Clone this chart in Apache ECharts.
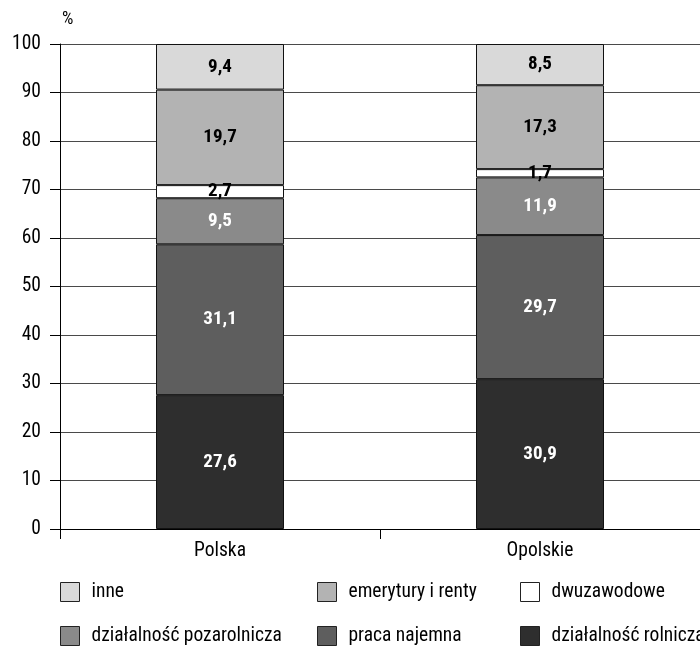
<!DOCTYPE html>
<html>
<head>
<meta charset="utf-8">
<script src="https://cdn.jsdelivr.net/npm/echarts@6/dist/echarts.min.js"></script>
<style>html,body{margin:0;padding:0;background:#fff}#c{width:700px;height:646px}</style>
</head>
<body>
<div id="c"></div>
<script>
var categories = ['Polska', 'Opolskie'];
var yTicks = [0, 10, 20, 30, 40, 50, 60, 70, 80, 90, 100];
var rolnicza = [27.6, 30.9];
var najemna = [31.1, 29.7];
var pozarolnicza = [9.5, 11.9];
var dwuzawodowe = [2.7, 1.7];
var emerytury = [19.7, 17.3];
var inne = [9.4, 8.5];

var FONT = '"Roboto Condensed", "Liberation Sans Narrow", "Arial Narrow", sans-serif';

var seriesDefs = [
  {name: 'działalność rolnicza', data: rolnicza, color: '#2e2e2e', text: '#ffffff'},
  {name: 'praca najemna', data: najemna, color: '#5e5e5e', text: '#ffffff'},
  {name: 'działalność pozarolnicza', data: pozarolnicza, color: '#8a8a8a', text: '#ffffff'},
  {name: 'dwuzawodowe', data: dwuzawodowe, color: '#ffffff', text: '#000000'},
  {name: 'emerytury i renty', data: emerytury, color: '#b3b3b3', text: '#000000'},
  {name: 'inne', data: inne, color: '#d9d9d9', text: '#000000'}
];

var series = seriesDefs.map(function (s) {
  return {
    name: s.name,
    type: 'bar',
    stack: 'total',
    barWidth: '40%',
    data: s.data,
    itemStyle: {color: s.color, borderColor: '#111', borderWidth: 1},
    label: {
      show: true,
      position: 'inside',
      color: s.text,
      fontFamily: FONT,
      fontWeight: 'bold',
      fontSize: 19,
      formatter: function (p) { return String(p.value).replace('.', ','); }
    }
  };
});

var legendPos = [
  {name: 'inne', left: 60, top: 582},
  {name: 'emerytury i renty', left: 317, top: 582},
  {name: 'dwuzawodowe', left: 520, top: 582},
  {name: 'działalność pozarolnicza', left: 60, top: 626},
  {name: 'praca najemna', left: 317, top: 626},
  {name: 'działalność rolnicza', left: 520, top: 626}
];
var legends = legendPos.map(function (l) {
  return {
    data: [l.name],
    left: l.left,
    top: l.top,
    padding: 0,
    itemWidth: 19,
    itemHeight: 19,
    icon: 'rect',
    itemStyle: {borderColor: '#222', borderWidth: 1},
    selectedMode: false,
    textStyle: {fontFamily: FONT, fontSize: 19.5, color: '#000', padding: [0, 0, 0, 7]}
  };
});

var chart = echarts.init(document.getElementById('c'), null, {renderer: 'canvas'});
chart.setOption({
  animation: false,
  backgroundColor: '#fff',
  grid: {left: 60, right: 0, top: 44, bottom: 117, containLabel: false},
  legend: legends,
  xAxis: {
    type: 'category',
    data: categories,
    boundaryGap: true,
    axisLine: {lineStyle: {color: '#000', width: 1}},
    axisTick: {show: true, length: 10, lineStyle: {color: '#000'}},
    axisLabel: {fontFamily: FONT, fontSize: 19.5, color: '#000', margin: 12}
  },
  yAxis: {
    type: 'value',
    min: 0,
    max: 100,
    interval: 10,
    name: '%',
    nameLocation: 'end',
    nameGap: 16,
    nameTextStyle: {fontFamily: FONT, fontSize: 18, color: '#000', align: 'left', padding: [0, 0, 0, 2]},
    axisLine: {show: true, lineStyle: {color: '#000', width: 1}},
    axisTick: {show: true, length: 10, lineStyle: {color: '#000'}},
    axisLabel: {fontFamily: FONT, fontSize: 19.5, color: '#000', margin: 19,
      formatter: function (v) { return yTicks.indexOf(v) >= 0 ? String(v) : ''; }},
    splitLine: {show: true, lineStyle: {color: '#4a4a4a', width: 1}}
  },
  series: series
});
</script>
</body>
</html>
